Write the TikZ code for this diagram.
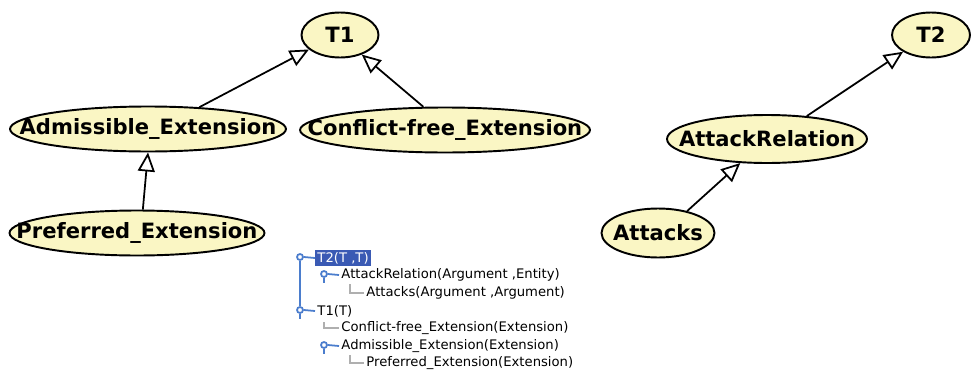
\documentclass[tikz,border=0pt]{standalone}
\usepackage{fontspec}
\setsansfont{DejaVu Sans}
\usetikzlibrary{arrows.meta,calc,positioning,shapes}
\definecolor{ellfill}{RGB}{250,246,196}
\definecolor{treeblue}{RGB}{75,125,205}
\definecolor{selblue}{RGB}{58,90,180}
\definecolor{elbowgray}{RGB}{175,175,175}
\newcommand{\elab}[1]{\makebox[0pt]{#1}}
\tikzset{
taxo/.style={x=0.02cm,y=-0.02cm},
cls/.style={ellipse,draw,line width=1.1pt,fill=ellfill,inner sep=0pt,
    minimum height=0.9cm,font=\sffamily\bfseries\fontsize{12}{14}\selectfont},
isa/.style={-{Triangle[open,length=0.38cm,width=0.34cm]},line width=1pt},
row/.style={anchor=west,inner sep=1.2pt,font=\sffamily\fontsize{7.5}{9}\selectfont},
icon/.style={circle,draw=treeblue,fill=white,line width=1pt,inner sep=0pt,
    minimum size=0.12cm},
stem/.style={draw=treeblue,line width=1pt},
elbow/.style={draw=elbowgray,line width=0.7pt},
}

\begin{document}
\begin{tikzpicture}[taxo]
    \useasboundingbox (0,0) rectangle (976,382);

    % class hierarchy T1
    \node[cls,minimum width=1.54cm] (t1) at (340,35) {\elab{T1}};
    \node[cls,minimum width=5.52cm] (adm) at (148,129) {\elab{Admissible\_Extension}};
    \node[cls,minimum width=5.8cm] (cf) at (445,130) {\elab{Conflict-free\_Extension}};
    \node[cls,minimum width=5.1cm] (pref) at (137,233) {\elab{Preferred\_Extension}};

    % class hierarchy T2
    \node[cls,minimum width=1.56cm] (t2) at (931,35) {\elab{T2}};
    \node[cls,minimum width=4.0cm,minimum height=0.96cm] (ar) at (767,139) {\elab{AttackRelation}};
    \node[cls,minimum width=2.26cm,minimum height=0.98cm] (att) at (658,233) {\elab{Attacks}};

    \path[isa]
        (adm.23) edge (t1.205)
        (cf.133) edge (t1.318)
        (pref.76) edge (adm.270)
        (ar.30) edge (t2.211)
        (att.37) edge (ar.222)
    ;

    % outline tree
    \node[icon] (i-t2) at (300,257) {};
    \node[row,fill=selblue,text=white] (r-t2) at (315,258) {T2(T ,T)};
    \node[icon] (i-ar) at (324,274) {};
    \node[row] (r-ar) at (339,275) {AttackRelation(Argument ,Entity)};
    \node[row] (r-att) at (364,293) {Attacks(Argument ,Argument)};
    \node[icon] (i-t1) at (300,310) {};
    \node[row] (r-t1) at (315,311) {T1(T)};
    \node[row] (r-cf) at (339,328) {Conflict-free\_Extension(Extension)};
    \node[icon] (i-adm) at (324,345) {};
    \node[row] (r-adm) at (339,346) {Admissible\_Extension(Extension)};
    \node[row] (r-pref) at (364,363) {Preferred\_Extension(Extension)};

    \draw[stem] (i-t2.south) -- (i-t1.north);
    \draw[stem] (i-t2.east) -- (r-t2.west);
    \draw[stem] (i-ar.east) -- (r-ar.west);
    \draw[stem] (i-ar.south) -- ++(0,5);
    \draw[stem] (i-t1.east) -- (r-t1.west);
    \draw[stem] (i-t1.south) -- ++(0,5);
    \draw[stem] (i-adm.east) -- (r-adm.west);
    \draw[stem] (i-adm.south) -- ++(0,5);

    \draw[elbow] (r-att.west) -| ($(i-ar.south)+(26,6)$);
    \draw[elbow] (r-cf.west) -| ($(i-t1.south)+(24,8)$);
    \draw[elbow] (r-pref.west) -| ($(i-adm.south)+(26,6)$);
\end{tikzpicture}
\end{document}
